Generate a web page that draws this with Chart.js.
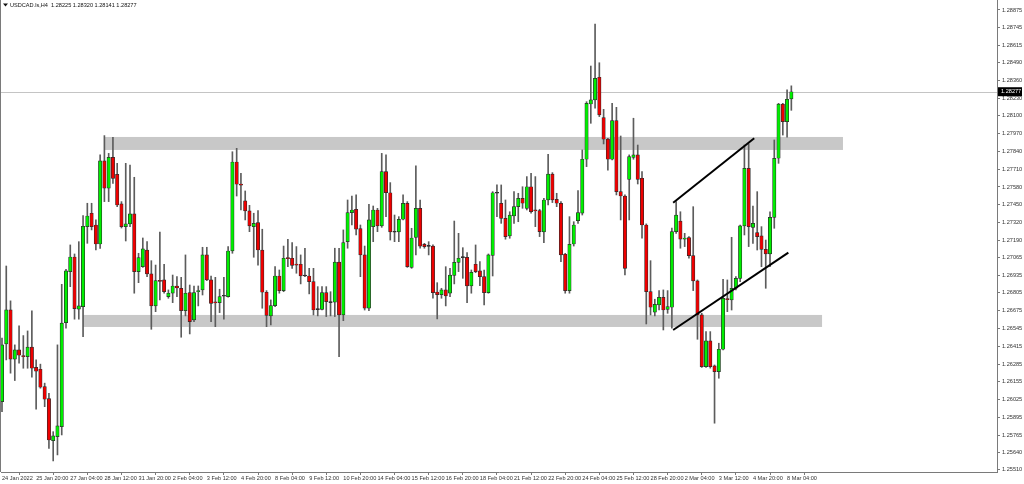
<!DOCTYPE html>
<html>
<head>
<meta charset="utf-8">
<script src="https://cdn.jsdelivr.net/npm/chart.js@4.4.1/dist/chart.umd.min.js"></script>
<style>
  html, body { margin: 0; padding: 0; background: #fff; }
  #wrap { width: 1024px; height: 484px; }
</style>
</head>
<body>
<div id="wrap"><canvas id="chart" width="1024" height="484"></canvas></div>
<script>
// ─── Data (USDCAD H4, bar 0 = 24 Jan 2022 12:00) ───
const opens = [
  1.26010, 1.26432, 1.26681, 1.26320, 1.26388, 1.26344, 1.26339, 1.26408, 1.26261, 1.26247,
  1.26120, 1.26032, 1.25724, 1.25754, 1.25827, 1.26588, 1.26961, 1.27068, 1.26686, 1.26705,
  1.27290, 1.27388, 1.27302, 1.27163, 1.27771, 1.27571, 1.27797, 1.27673, 1.27456, 1.27290,
  1.27310, 1.27383, 1.26961, 1.26997, 1.27119, 1.26944, 1.26710, 1.26895, 1.26900, 1.26778,
  1.26803, 1.26856, 1.26839, 1.26675, 1.26807, 1.26608, 1.26814, 1.26827, 1.27083, 1.26900,
  1.26737, 1.26734, 1.26783, 1.26778, 1.27112, 1.27763, 1.27602, 1.27478, 1.27405, 1.27290,
  1.27319, 1.27119, 1.26810, 1.26637, 1.26712, 1.26929, 1.26822, 1.27061, 1.27059, 1.27015,
  1.27015, 1.26931, 1.26929, 1.26888, 1.26685, 1.26685, 1.26807, 1.26737, 1.26737, 1.27031,
  1.26644, 1.27180, 1.27392, 1.27417, 1.27275, 1.27083, 1.26693, 1.27290, 1.27412, 1.27295,
  1.27692, 1.27538, 1.27251, 1.27251, 1.27344, 1.27461, 1.26992, 1.27212, 1.27424, 1.27161,
  1.27148, 1.27148, 1.26812, 1.26792, 1.26827, 1.26803, 1.26934, 1.27029, 1.27066, 1.27066,
  1.26856, 1.27015, 1.26966, 1.26924, 1.26807, 1.27080, 1.27534, 1.27461, 1.27351, 1.27222,
  1.27368, 1.27436, 1.27497, 1.27424, 1.27582, 1.27410, 1.27407, 1.27251, 1.27485, 1.27675,
  1.27490, 1.27461, 1.27088, 1.26822, 1.27163, 1.27334, 1.27388, 1.27783, 1.28187, 1.28217,
  1.28383, 1.28087, 1.27931, 1.27783, 1.28065, 1.27546, 1.27514, 1.27636, 1.27797, 1.27815,
  1.27644, 1.27302, 1.26814, 1.26664, 1.26717, 1.26773, 1.26685, 1.26700, 1.27253, 1.27331,
  1.27198, 1.27210, 1.27078, 1.26893, 1.26644, 1.26266, 1.26454, 1.26271, 1.26229, 1.26393,
  1.26761, 1.26754, 1.26839, 1.26912, 1.27295, 1.27717, 1.27285, 1.27246, 1.27222, 1.27124,
  1.27090, 1.27358, 1.27790, 1.28187, 1.28058, 1.28225
];
const highs = [
  1.26474, 1.27002, 1.26747, 1.26425, 1.26564, 1.26493, 1.26527, 1.26674, 1.26315, 1.26284,
  1.26145, 1.26071, 1.25790, 1.26425, 1.26868, 1.26978, 1.27156, 1.27090, 1.27180, 1.27370,
  1.27461, 1.27461, 1.27339, 1.27815, 1.27956, 1.27826, 1.27944, 1.27753, 1.27473, 1.27753,
  1.27741, 1.27651, 1.27095, 1.27207, 1.27180, 1.27041, 1.27009, 1.27251, 1.27015, 1.26827,
  1.26936, 1.26924, 1.26919, 1.27083, 1.26863, 1.26856, 1.26856, 1.27139, 1.27139, 1.26929,
  1.26919, 1.26832, 1.26919, 1.27144, 1.27838, 1.27863, 1.27680, 1.27551, 1.27446, 1.27388,
  1.27407, 1.27271, 1.26822, 1.26754, 1.26997, 1.26973, 1.27148, 1.27198, 1.27173, 1.27144,
  1.27083, 1.27132, 1.26985, 1.26985, 1.26851, 1.26851, 1.26851, 1.26814, 1.27132, 1.27132,
  1.27266, 1.27485, 1.27514, 1.27522, 1.27302, 1.27148, 1.27454, 1.27441, 1.27424, 1.27826,
  1.27815, 1.27612, 1.27375, 1.27363, 1.27522, 1.27473, 1.27278, 1.27734, 1.27485, 1.27168,
  1.27180, 1.27156, 1.26880, 1.26839, 1.26997, 1.26985, 1.27331, 1.27241, 1.27136, 1.27100,
  1.26973, 1.27156, 1.27034, 1.26973, 1.27090, 1.27546, 1.27595, 1.27595, 1.27485, 1.27399,
  1.27546, 1.27534, 1.27582, 1.27656, 1.27680, 1.27656, 1.27417, 1.27497, 1.27819, 1.27685,
  1.27534, 1.27473, 1.27095, 1.27363, 1.27326, 1.27553, 1.27851, 1.28204, 1.28465, 1.28772,
  1.28489, 1.28148, 1.27936, 1.28192, 1.28163, 1.27953, 1.27522, 1.27815, 1.28083, 1.27887,
  1.27692, 1.27310, 1.27041, 1.26759, 1.26822, 1.26827, 1.26822, 1.27280, 1.27473, 1.27399,
  1.27241, 1.27217, 1.27436, 1.26900, 1.26656, 1.26522, 1.26522, 1.26278, 1.26437, 1.26905,
  1.26900, 1.27212, 1.26924, 1.27302, 1.27887, 1.27895, 1.27441, 1.27546, 1.27290, 1.27192,
  1.27399, 1.27924, 1.28192, 1.28192, 1.28290, 1.28320
];
const lows = [
  1.25936, 1.26315, 1.26218, 1.26164, 1.26291, 1.26254, 1.26254, 1.26189, 1.25954, 1.26108,
  1.25973, 1.25668, 1.25576, 1.25620, 1.25766, 1.26547, 1.26851, 1.26613, 1.26613, 1.26485,
  1.27168, 1.27266, 1.27119, 1.27131, 1.27473, 1.27473, 1.27607, 1.27436, 1.27280, 1.27185,
  1.27290, 1.26803, 1.26880, 1.26992, 1.26924, 1.26539, 1.26668, 1.26754, 1.26803, 1.26766,
  1.26734, 1.26778, 1.26481, 1.26637, 1.26505, 1.26595, 1.26710, 1.26790, 1.26895, 1.26595,
  1.26558, 1.26661, 1.26613, 1.26774, 1.27095, 1.27514, 1.27412, 1.27339, 1.27253, 1.27066,
  1.27009, 1.26693, 1.26558, 1.26571, 1.26705, 1.26803, 1.26814, 1.26997, 1.26985, 1.26949,
  1.26871, 1.26924, 1.26798, 1.26644, 1.26637, 1.26680, 1.26632, 1.26637, 1.26632, 1.26339,
  1.26602, 1.27132, 1.27302, 1.27229, 1.26924, 1.26680, 1.26675, 1.27180, 1.27253, 1.27285,
  1.27363, 1.27192, 1.27180, 1.27180, 1.27339, 1.26992, 1.26985, 1.27083, 1.27132, 1.27132,
  1.27083, 1.26766, 1.26615, 1.26766, 1.26710, 1.26778, 1.26871, 1.26961, 1.26912, 1.26734,
  1.26803, 1.26953, 1.26858, 1.26717, 1.26803, 1.26929, 1.27363, 1.27314, 1.27198, 1.27205,
  1.27314, 1.27326, 1.27424, 1.27412, 1.27388, 1.27290, 1.27217, 1.27173, 1.27448, 1.27466,
  1.27436, 1.27034, 1.26803, 1.26803, 1.27148, 1.27314, 1.27375, 1.27729, 1.28046, 1.28156,
  1.28095, 1.27895, 1.27704, 1.27778, 1.27522, 1.27339, 1.26936, 1.27339, 1.27783, 1.27602,
  1.27205, 1.26578, 1.26644, 1.26637, 1.26680, 1.26534, 1.26656, 1.26547, 1.27241, 1.27132,
  1.27144, 1.27059, 1.26822, 1.26466, 1.26260, 1.26260, 1.26255, 1.25852, 1.26181, 1.26388,
  1.26668, 1.26680, 1.26827, 1.26888, 1.27229, 1.27144, 1.27168, 1.27119, 1.26997, 1.26839,
  1.26997, 1.27278, 1.27753, 1.27960, 1.27944, 1.28141
];
const closes = [
  1.26425, 1.26681, 1.26320, 1.26388, 1.26349, 1.26339, 1.26408, 1.26254, 1.26232, 1.26115,
  1.26027, 1.25729, 1.25759, 1.25832, 1.26584, 1.26966, 1.27068, 1.26690, 1.26710, 1.27293,
  1.27368, 1.27290, 1.27163, 1.27771, 1.27571, 1.27797, 1.27643, 1.27448, 1.27290, 1.27310,
  1.27383, 1.26961, 1.27063, 1.27127, 1.26944, 1.26710, 1.26895, 1.26890, 1.26814, 1.26803,
  1.26856, 1.26841, 1.26675, 1.26803, 1.26595, 1.26807, 1.26822, 1.27083, 1.26900, 1.26729,
  1.26732, 1.26778, 1.26781, 1.27112, 1.27763, 1.27600, 1.27593, 1.27405, 1.27295, 1.27314,
  1.27119, 1.26810, 1.26641, 1.26712, 1.26929, 1.26822, 1.27059, 1.27056, 1.27007, 1.27009,
  1.26929, 1.26929, 1.26888, 1.26680, 1.26683, 1.26807, 1.26741, 1.26734, 1.27031, 1.26644,
  1.27173, 1.27392, 1.27412, 1.27271, 1.27083, 1.26693, 1.27339, 1.27412, 1.27295, 1.27692,
  1.27538, 1.27251, 1.27249, 1.27344, 1.27461, 1.26997, 1.27207, 1.27424, 1.27148, 1.27144,
  1.27146, 1.26807, 1.26792, 1.26827, 1.26783, 1.26936, 1.27029, 1.27059, 1.27063, 1.26856,
  1.26956, 1.26961, 1.26924, 1.26807, 1.27083, 1.27538, 1.27536, 1.27351, 1.27217, 1.27375,
  1.27436, 1.27497, 1.27461, 1.27582, 1.27399, 1.27405, 1.27253, 1.27485, 1.27675, 1.27485,
  1.27461, 1.27083, 1.26822, 1.27161, 1.27302, 1.27392, 1.27783, 1.28192, 1.28217, 1.28375,
  1.28107, 1.27929, 1.27783, 1.28065, 1.27546, 1.27514, 1.26985, 1.27802, 1.27815, 1.27636,
  1.27302, 1.26814, 1.26700, 1.26722, 1.26773, 1.26680, 1.26705, 1.27253, 1.27375, 1.27198,
  1.27207, 1.27078, 1.26893, 1.26644, 1.26266, 1.26454, 1.26266, 1.26229, 1.26393, 1.26766,
  1.26756, 1.26839, 1.26912, 1.27295, 1.27717, 1.27290, 1.27314, 1.27217, 1.27124, 1.27090,
  1.27358, 1.27790, 1.28187, 1.28058, 1.28222, 1.28277
];

// time axis: a label every 8 bars
const xTickBars = [0, 8, 16, 24, 32, 40, 48, 56, 64, 72, 80, 88, 96, 104, 112, 120, 128, 136, 144, 152, 160, 168, 176, 184];
const xLabels = [
  "24 Jan 2022", "25 Jan 20:00", "27 Jan 04:00", "28 Jan 12:00", "31 Jan 20:00", "2 Feb 04:00",
  "3 Feb 12:00", "4 Feb 20:00", "8 Feb 04:00", "9 Feb 12:00", "10 Feb 20:00", "14 Feb 04:00",
  "15 Feb 12:00", "16 Feb 20:00", "18 Feb 04:00", "21 Feb 12:00", "22 Feb 20:00", "24 Feb 04:00",
  "25 Feb 12:00", "28 Feb 20:00", "2 Mar 04:00", "3 Mar 12:00", "4 Mar 20:00", "8 Mar 04:00"
];
const yTicks = [
  1.28875, 1.28745, 1.28615, 1.28490, 1.28360, 1.28230, 1.28100, 1.27970, 1.27840, 1.27710,
  1.27580, 1.27450, 1.27320, 1.27190, 1.27065, 1.26935, 1.26805, 1.26675, 1.26545, 1.26415,
  1.26285, 1.26155, 1.26025, 1.25895, 1.25765, 1.25640, 1.25510
];

// drawn objects: zones [fromBar, toBar, top, bottom], lines [bar1, price1, bar2, price2]
const zones = [
  [23.9, 197.1, 1.27946, 1.27851],
  [19.0, 192.2, 1.26644, 1.26556]
];
const trendLines = [
  [157.3, 1.27465, 176.3, 1.27936],
  [157.3, 1.26534, 184.3, 1.27100]
];
const symbol = "USDCAD.ls,H4";
const last = opens.length - 1;

// ─── Build datasets ──────────────────────
const bars = opens.map((_, i) => i);
const bodyData = bars.map(i => ({ x: i, y: [opens[i], closes[i]] }));
const wickData = bars.map(i => ({ x: i, y: [lows[i], highs[i]] }));
const bodyColors = bars.map(i => {
  if (Math.abs(closes[i] - opens[i]) < 0.00004) return "#222";
  return closes[i] >= opens[i] ? "#00ee00" : "#ee0000";
});

const FONT = { family: "'Liberation Sans', Arial, sans-serif", size: 5.6 };
const AXIS = "#7a7a7a";
const TEXT = "#333";

// ─── Extra drawing (zones, price line, trend lines, labels) ─────
const overlay = {
  id: "overlay",
  beforeDatasetsDraw(chart) {
    const { ctx, chartArea: a, scales: { x, y } } = chart;
    ctx.save();
    ctx.beginPath();
    ctx.rect(a.left, a.top, a.right - a.left, a.bottom - a.top);
    ctx.clip();
    ctx.fillStyle = "#c8c8c8";
    zones.forEach(z => {
      const x1 = x.getPixelForValue(z[0]), x2 = x.getPixelForValue(z[1]);
      const y1 = y.getPixelForValue(z[2]), y2 = y.getPixelForValue(z[3]);
      ctx.fillRect(x1, y1, x2 - x1, y2 - y1);
    });
    const py = Math.round(y.getPixelForValue(closes[last])) + 0.5;
    ctx.strokeStyle = "#c4c4c4";
    ctx.lineWidth = 1;
    ctx.beginPath();
    ctx.moveTo(a.left, py);
    ctx.lineTo(a.right, py);
    ctx.stroke();
    ctx.restore();
  },
  afterDatasetsDraw(chart) {
    const { ctx, scales: { x, y } } = chart;
    ctx.save();
    ctx.strokeStyle = "#000";
    ctx.lineWidth = 2;
    trendLines.forEach(l => {
      ctx.beginPath();
      ctx.moveTo(x.getPixelForValue(l[0]), y.getPixelForValue(l[1]));
      ctx.lineTo(x.getPixelForValue(l[2]), y.getPixelForValue(l[3]));
      ctx.stroke();
    });
    ctx.restore();
  },
  afterDraw(chart) {
    const { ctx, chartArea: a, scales: { y } } = chart;
    ctx.save();
    // left frame
    ctx.fillStyle = AXIS;
    ctx.fillRect(0, 0, 1, a.bottom);
    ctx.font = `${FONT.size}px ${FONT.family}`;
    ctx.textBaseline = "middle";
    // price labels (drawn here so the axis adds no padding to the plot)
    ctx.fillStyle = TEXT;
    yTicks.forEach(v => ctx.fillText(v.toFixed(5), a.right + 5, y.getPixelForValue(v)));
    // header
    ctx.fillStyle = "#111";
    ctx.beginPath();
    ctx.moveTo(3, 3.5); ctx.lineTo(8, 3.5); ctx.lineTo(5.5, 6.5);
    ctx.closePath(); ctx.fill();
    ctx.fillText(`${symbol}  ${opens[last].toFixed(5)} ${highs[last].toFixed(5)} ${lows[last].toFixed(5)} ${closes[last].toFixed(5)}`, 10, 5.5);
    // last price tag
    const py = y.getPixelForValue(closes[last]);
    ctx.fillStyle = "#000";
    ctx.fillRect(a.right + 1, py - 4.5, 24, 9);
    ctx.fillStyle = "#fff";
    ctx.fillText(closes[last].toFixed(5), a.right + 4, py);
    ctx.restore();
  }
};

// ─── Chart ───────────────────────────────
new Chart(document.getElementById("chart"), {
  type: "bar",
  data: {
    datasets: [
      {
        data: bodyData,
        backgroundColor: bodyColors,
        borderColor: "#2a2a2a",
        borderWidth: 0.7,
        borderSkipped: false,
        barThickness: 3.4,
        minBarLength: 1,
        grouped: false,
      },
      {
        data: wickData,
        backgroundColor: "#5c5c5c",
        borderWidth: 0,
        barThickness: 1,
        grouped: false,
      },
    ],
  },
  options: {
    responsive: false,
    animation: false,
    events: [],
    layout: { padding: { left: 1, top: 0, right: 0, bottom: 0 } },
    plugins: { legend: { display: false }, tooltip: { enabled: false } },
    scales: {
      x: {
        type: "linear",
        min: -0.234,
        max: 233.2,
        offset: false,
        grid: {
          drawOnChartArea: false,
          tickLength: 3,
          tickColor: c => (c.index === 0 ? "rgba(0,0,0,0)" : AXIS),
        },
        border: { display: true, color: AXIS },
        ticks: {
          align: "start",
          padding: 0,
          autoSkip: false,
          maxRotation: 0,
          font: FONT,
          color: TEXT,
          callback: (v, i) => xLabels[i],
        },
        afterBuildTicks: s => { s.ticks = xTickBars.map(v => ({ value: v })); },
        afterFit: s => { s.height = 12; },
      },
      y: {
        type: "linear",
        position: "right",
        min: 1.25495,
        max: 1.28948,
        grid: { drawOnChartArea: false, tickLength: 3, tickColor: AXIS },
        border: { display: true, color: AXIS },
        ticks: { display: false },
        afterBuildTicks: s => { s.ticks = yTicks.map(v => ({ value: v })); },
        afterFit: s => { s.width = 27; },
      },
    },
  },
  plugins: [overlay],
});
</script>
</body>
</html>
